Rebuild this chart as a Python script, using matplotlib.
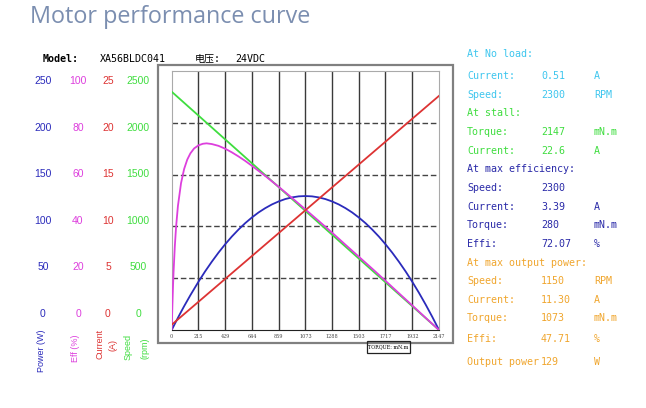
import matplotlib.pyplot as plt
import matplotlib.transforms as mtransforms
from matplotlib.patches import Rectangle

# torque grid (mN.m) and curves
torque_ticks = [0, 215, 429, 644, 859, 1073, 1288, 1503, 1717, 1932, 2147]
torque_tick_labels = ['0', '215', '429', '644', '859', '1073', '1288', '1503', '1717', '1932', '2147']

speed_torque = [0, 2147]
speed_rpm = [2300, 0]

current_torque = [0, 2147]
current_a = [0.51, 22.6]

power_torque = [0, 27, 50, 81, 100, 150, 215, 268, 322, 376, 429, 483, 537, 590, 644, 698,
                751, 805, 859, 912, 966, 1020, 1073, 1127, 1181, 1234, 1288, 1342, 1396, 1449,
                1503, 1557, 1610, 1664, 1717, 1771, 1825, 1879, 1932, 1986, 2040, 2093, 2120, 2147]
power_w = [0, 6.4, 11.8, 18.8, 23.0, 33.6, 46.6, 56.5, 65.9, 74.7, 82.7, 90.2, 97.0, 103.1,
           108.6, 113.5, 117.6, 121.2, 124.1, 126.4, 128.0, 129.0, 129.3, 129.0, 128.0, 126.4,
           124.1, 121.2, 117.6, 113.5, 108.6, 103.1, 97.0, 90.2, 82.8, 74.7, 65.9, 56.5, 46.6,
           35.9, 24.5, 12.7, 6.4, 0]

eff_torque = [0, 2, 5, 10, 15, 25, 35, 50, 75, 100, 125, 150, 180, 215, 250, 280, 322, 376,
              429, 483, 537, 590, 644, 751, 859, 966, 1073, 1181, 1288, 1396, 1503, 1610,
              1717, 1825, 1932, 2040, 2147]
eff_pct = [0, 3.8, 8.9, 16.3, 22.5, 32.3, 39.7, 47.9, 56.7, 62.2, 65.8, 68.2, 70.1, 71.3,
           71.9, 72.07, 71.8, 71.1, 70.0, 68.6, 67.0, 65.3, 63.4, 59.5, 55.3, 51.0, 46.6,
           42.1, 37.6, 32.9, 28.3, 23.7, 19.0, 14.2, 9.5, 4.7, 0]

power_ticks = [0, 50, 100, 150, 200, 250]
eff_ticks = [0, 20, 40, 60, 80, 100]
current_ticks = [0, 5, 10, 15, 20, 25]
speed_ticks = [0, 500, 1000, 1500, 2000, 2500]

c_blue = '#2b2bbb'
c_mag = '#dd3fdd'
c_red = '#dd3333'
c_green = '#3fdd3f'
c_cyan = '#3ec6ee'
c_navy = '#2a2aa8'
c_orange = '#f0a62e'

info_rows = [
    ('At No load:', '', '', c_cyan),
    ('Current:', '0.51', 'A', c_cyan),
    ('Speed:', '2300', 'RPM', c_cyan),
    ('At stall:', '', '', c_green),
    ('Torque:', '2147', 'mN.m', c_green),
    ('Current:', '22.6', 'A', c_green),
    ('At max efficiency:', '', '', c_navy),
    ('Speed:', '2300', '', c_navy),
    ('Current:', '3.39', 'A', c_navy),
    ('Torque:', '280', 'mN.m', c_navy),
    ('Effi:', '72.07', '%', c_navy),
    ('At max output power:', '', '', c_orange),
    ('Speed:', '1150', 'RPM', c_orange),
    ('Current:', '11.30', 'A', c_orange),
    ('Torque:', '1073', 'mN.m', c_orange),
    ('Effi:', '47.71', '%', c_orange),
    ('Output power', '129', 'W', c_orange),
]
info_y = [54, 76, 95, 113, 132, 151, 169, 188, 207, 225, 244, 263, 281, 300, 318, 339, 362]

W, H = 646, 408
fig = plt.figure(figsize=(W / 100, H / 100), dpi=100)
mono = ['DejaVu Sans Mono', 'Noto Sans CJK SC']

def fx(px):
    return px / W

def fy(py):
    return 1 - py / H

# title and header
fig.text(fx(30), fy(23), 'Motor performance curve', fontsize=16.8, color='#7b8eb0',
         family='Open Sans', va='baseline')
fig.text(fx(43), fy(62), 'Model:', fontsize=7.2, family=mono, weight='bold', va='baseline')
fig.text(fx(100), fy(62), 'XA56BLDC041', fontsize=7.2, family=mono, va='baseline')
fig.text(fx(195), fy(62), '电压:', fontsize=7.2, family=mono, va='baseline')
fig.text(fx(235), fy(62), '24VDC', fontsize=7.2, family=mono, va='baseline')

# outer frame
fig.patches.append(Rectangle((fx(158), fy(343)), fx(295), 278 / H, transform=fig.transFigure,
                             fill=False, edgecolor='#808080', lw=1.6))

ax = fig.add_axes([fx(171.7), fy(330), fx(267.3), 259 / H])
ax.set_xlim(0, 2147)
ax.set_ylim(0, 2500)
ax.set_xticks(torque_ticks)
ax.set_xticklabels(torque_tick_labels, fontsize=3.5, family='DejaVu Serif', color='#444444')
ax.set_yticks([])
ax.tick_params(axis='x', length=0, pad=3)
for t in torque_ticks[1:-1]:
    ax.axvline(t, color='#3a3a3a', lw=1.0, zorder=1)
for s in speed_ticks[1:-1]:
    ax.axhline(s, color='#444444', lw=1.0, ls=(0, (4, 2)), zorder=1)
for side in ['left', 'top', 'right']:
    ax.spines[side].set_color('#aaaaaa')
ax.spines['bottom'].set_color('#222222')

ax_p = ax.twinx()
ax_e = ax.twinx()
ax_c = ax.twinx()
for a, lim in [(ax_p, 250), (ax_e, 100), (ax_c, 25)]:
    a.set_ylim(0, lim)
    a.set_yticks([])
    a.axis('off')

ax.plot(speed_torque, speed_rpm, color=c_green, lw=1.3, zorder=3)
ax_c.plot(current_torque, current_a, color=c_red, lw=1.3)
ax_p.plot(power_torque, power_w, color=c_blue, lw=1.3)
ax_e.plot(eff_torque, eff_pct, color=c_mag, lw=1.3)

# left scale columns (offset from the grid, as in the original)
tr = mtransforms.blended_transform_factory(fig.transFigure, ax.transAxes)
cols = [(43, power_ticks, c_blue), (78, eff_ticks, c_mag),
        (108, current_ticks, c_red), (138, speed_ticks, c_green)]
for x, ticks, col in cols:
    for i, v in enumerate(ticks):
        ax.text(fx(x), (16 + i * 46.6) / 259, str(v), transform=tr, ha='center', va='center',
                fontsize=7.5, color=col, family='Liberation Sans')

axis_labels = [(42, 351, 'Power (W)', c_blue), (76, 348, 'Eff (%)', c_mag),
               (100, 344, 'Current', c_red), (113, 345, '(A)', c_red),
               (128, 347, 'Speed', c_green), (145, 348, '(rpm)', c_green)]
for x, y, s, col in axis_labels:
    fig.text(fx(x), fy(y), s, rotation=90, ha='center', va='center', fontsize=6.5,
             color=col, family='Liberation Sans')

# torque unit box
fig.patches.append(Rectangle((fx(367), fy(353)), fx(43), 12 / H, transform=fig.transFigure,
                             fill=False, edgecolor='#222222', lw=0.9))
fig.text(fx(388.5), fy(347), 'TORQUE: mN.m', fontsize=3.5, family='DejaVu Serif',
         ha='center', va='center')

# right information panel
for (lab, val, unit, col), y in zip(info_rows, info_y):
    fig.text(fx(467), fy(y), lab, fontsize=7.2, family=mono, color=col, va='center')
    if val:
        fig.text(fx(541), fy(y), val, fontsize=7.2, family=mono, color=col, va='center')
    if unit:
        fig.text(fx(594), fy(y), unit, fontsize=7.2, family=mono, color=col, va='center')

fig.savefig('out.png', dpi=100)
